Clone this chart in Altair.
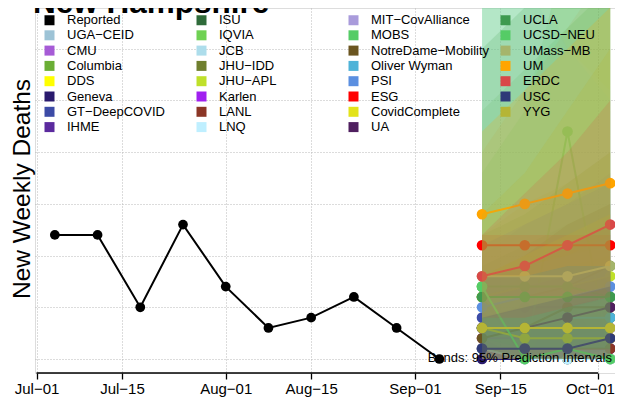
import json
import altair as alt
import pandas as pd

# ---------------- data ----------------
report_dates = ["2020-07-04", "2020-07-11", "2020-07-18", "2020-07-25", "2020-08-01",
                "2020-08-08", "2020-08-15", "2020-08-22", "2020-08-29", "2020-09-05"]
report_values = [12, 12, 5, 13, 7, 3, 4, 6, 3, 0]

forecast_dates = ["2020-09-12", "2020-09-19", "2020-09-26", "2020-10-03"]

legend_col1 = ["Reported", "UGA−CEID", "CMU", "Columbia", "DDS", "Geneva", "GT−DeepCOVID", "IHME"]
legend_col2 = ["ISU", "IQVIA", "JCB", "JHU−IDD", "JHU−APL", "Karlen", "LANL", "LNQ"]
legend_col3 = ["MIT−CovAlliance", "MOBS", "NotreDame−Mobility", "Oliver Wyman", "PSI", "ESG",
               "CovidComplete", "UA"]
legend_col4 = ["UCLA", "UCSD−NEU", "UMass−MB", "UM", "ERDC", "USC", "YYG"]

series_colors = {
    "Reported": "#000000", "UGA−CEID": "#9DC3D6", "CMU": "#A65BD6", "Columbia": "#6AAE35",
    "DDS": "#FFFF00", "Geneva": "#2A1A6E", "GT−DeepCOVID": "#3C4BA6", "IHME": "#5B2A9E",
    "ISU": "#2F6B3A", "IQVIA": "#6FD153", "JCB": "#ADDDEB", "JHU−IDD": "#6F7F2E",
    "JHU−APL": "#BFE02A", "Karlen": "#A020F0", "LANL": "#8B3626", "LNQ": "#BFEFFF",
    "MIT−CovAlliance": "#A99BDB", "MOBS": "#55CC66", "NotreDame−Mobility": "#6B5520",
    "Oliver Wyman": "#4EB3D8", "PSI": "#5B8FE0", "ESG": "#FF0000", "CovidComplete": "#E3E31A",
    "UA": "#4F1F5F", "UCLA": "#3E9A4F", "UCSD−NEU": "#55CC66", "UMass−MB": "#A5B56B",
    "UM": "#FFA500", "ERDC": "#D94848", "USC": "#2E3A78", "YYG": "#B5B535",
}

# forecast medians / 95% bounds at the four forecast dates
median = {
    "UGA−CEID": [6, 6, 6, 6], "CMU": [3, 3, 3, 3], "Columbia": [6, 0, 0, 0], "DDS": [2, 2, 2, 2],
    "Geneva": [0, 0, 0, 0], "GT−DeepCOVID": [4, 5, 5, 6], "IHME": [1, 1, 1, 1], "ISU": [3, 3, 4, 4],
    "IQVIA": [7, 0, 22, 0], "JCB": [1, 0, 0, 0], "JHU−IDD": [6, 6, 7, 9], "JHU−APL": [6, 7, 7, 8],
    "Karlen": [2, 2, 2, 2], "LANL": [1, 1, 1, 1], "LNQ": [1, 0, 0, 0], "MIT−CovAlliance": [3, 3, 3, 3],
    "MOBS": [7, 7, 7, 6], "NotreDame−Mobility": [2, 3, 5, 5], "Oliver Wyman": [3, 3, 4, 4],
    "PSI": [5, 6, 6, 7], "ESG": [11, 11, 11, 11], "CovidComplete": [3, 2, 2, 2], "UA": [3, 3, 4, 5],
    "UCLA": [6, 6, 6, 6], "UCSD−NEU": [7, 0, 1, 0], "UMass−MB": [8, 8, 8, 9], "UM": [14, 15, 16, 17],
    "ERDC": [8, 9, 11, 13], "USC": [1, 1, 1, 2], "YYG": [3, 3, 3, 3],
}
lower = {
    "UGA−CEID": [2, 2, 1, 1], "CMU": [0, 0, 0, 0], "Columbia": [1, 0, 0, 0], "DDS": [0, 0, 0, 0],
    "Geneva": [0, 0, 0, 0], "GT−DeepCOVID": [0, 0, 0, 1], "IHME": [0, 0, 0, 0], "ISU": [0, 0, 0, 0],
    "IQVIA": [2, 0, 6, 0], "JCB": [0, 0, 0, 0], "JHU−IDD": [2, 2, 2, 3], "JHU−APL": [2, 2, 2, 2],
    "Karlen": [0, 0, 0, 0], "LANL": [0, 0, 0, 0], "LNQ": [0, 0, 0, 0], "MIT−CovAlliance": [0, 0, 0, 0],
    "MOBS": [2, 1, 1, 1], "NotreDame−Mobility": [0, 0, 1, 1], "Oliver Wyman": [0, 0, 0, 0],
    "PSI": [1, 1, 1, 2], "ESG": [6, 6, 6, 6], "CovidComplete": [0, 0, 0, 0], "UA": [0, 0, 0, 0],
    "UCLA": [1, 1, 1, 1], "UCSD−NEU": [1, 0, 0, 0], "UMass−MB": [3, 3, 3, 3], "UM": [8, 8, 9, 9],
    "ERDC": [4, 4, 5, 6], "USC": [0, 0, 0, 0], "YYG": [0, 0, 0, 0],
}
upper = {
    "UGA−CEID": [11, 13, 15, 17], "CMU": [8, 10, 12, 14], "Columbia": [24, 28, 32, 36],
    "DDS": [6, 8, 9, 10], "Geneva": [5, 6, 7, 8], "GT−DeepCOVID": [10, 13, 15, 18], "IHME": [4, 4, 5, 5],
    "ISU": [9, 11, 13, 15], "IQVIA": [18, 24, 40, 40], "JCB": [40, 40, 30, 25], "JHU−IDD": [12, 14, 17, 20],
    "JHU−APL": [12, 15, 17, 20], "Karlen": [6, 7, 8, 9], "LANL": [5, 6, 7, 8], "LNQ": [40, 36, 30, 26],
    "MIT−CovAlliance": [8, 9, 10, 11], "MOBS": [40, 40, 40, 40], "NotreDame−Mobility": [8, 10, 13, 15],
    "Oliver Wyman": [8, 9, 10, 12], "PSI": [11, 13, 15, 17], "ESG": [12, 12, 12, 12],
    "CovidComplete": [8, 10, 12, 14], "UA": [8, 9, 11, 13], "UCLA": [30, 34, 38, 40],
    "UCSD−NEU": [40, 40, 40, 40], "UMass−MB": [20, 26, 32, 38], "UM": [22, 26, 30, 34],
    "ERDC": [12, 16, 20, 25], "USC": [4, 5, 6, 7], "YYG": [14, 18, 24, 30],
}

tick_dates = ["2020-07-01", "2020-07-15", "2020-08-01", "2020-08-15", "2020-09-01", "2020-09-15", "2020-10-01"]
tick_labels = ["Jul−01", "Jul−15", "Aug−01", "Aug−15", "Sep−01", "Sep−15", "Oct−01"]
y_grid = [0, 5, 10, 15, 20, 25, 30]
title_text = "New Hampshire"
note_text = "Bands: 95% Prediction Intervals"

# ---------------- build tables ----------------
origin = pd.Timestamp(tick_dates[0])


def day(s):
    return (pd.Timestamp(s) - origin).days


tick_days = [day(d) for d in tick_dates]

draw_order = legend_col1[1:] + legend_col2 + legend_col3 + legend_col4
rows = []
for k, m in enumerate(draw_order):
    for i, d in enumerate(forecast_dates):
        rows.append({"model": m, "order": k, "day": day(d), "med": median[m][i],
                     "lo": lower[m][i], "hi": upper[m][i]})
fc = pd.DataFrame(rows)
rep = pd.DataFrame({"model": "Reported", "day": [day(d) for d in report_dates], "med": report_values})

# vertical legend with 4 columns fills column by column
legend_order = legend_col1 + legend_col2 + legend_col3 + legend_col4
color_scale = alt.Scale(domain=legend_order, range=[series_colors[m] for m in legend_order])

W, H = 580, 365
PX_PER_DAY = 6.103
PX_PER_UNIT = 10.34
x_min = -0.25
x_max = x_min + W / PX_PER_DAY
y_min = -14 / PX_PER_UNIT
y_max = y_min + H / PX_PER_UNIT
xs = alt.Scale(domain=[x_min, x_max], nice=False, zero=False)
ys = alt.Scale(domain=[y_min, y_max], nice=False, zero=False)

FONT = "Liberation Sans"
label_expr = "{}[indexof({}, datum.value)]".format(
    json.dumps(tick_labels, ensure_ascii=False), json.dumps(tick_days))

x_axis = alt.Axis(values=tick_days, labelExpr=label_expr, grid=True, gridDash=[1, 2],
                  gridColor="#B8B8B8", domain=False, tickColor="black", tickWidth=1.3,
                  tickSize=6, labelFontSize=15, labelFont=FONT, labelColor="black",
                  labelPadding=2, labelFlush=False, labelOverlap=False, title=None,
                  labelOffset={"condition": {"test": f"datum.value == {tick_days[-1]}", "value": -8},
                               "value": 0})
y_axis = alt.Axis(values=y_grid, grid=True, gridDash=[1, 2], gridColor="#B8B8B8", labels=False,
                  ticks=False, domain=False, title="New Weekly Deaths", titleFontSize=24.5,
                  titleFont=FONT, titleFontWeight="normal", titleColor="black", titleX=-6,
                  titleY=180.5, titleAngle=270, titleAlign="center", titleBaseline="alphabetic")

legend = alt.Legend(
    orient="none", legendX=8, legendY=5.5, columns=4, symbolType="square", symbolSize=100,
    symbolStrokeWidth=0, symbolOpacity=1, labelFontSize=13, labelFont=FONT, labelColor="black",
    labelOffset=11, rowPadding=1.3, columnPadding=9, gridAlign="all", title=None, padding=0,
    labelLimit=300, symbolLimit=50)

color_enc = alt.Color("model:N", scale=color_scale, legend=legend)

# grid / axes carrier (draws nothing visible)
frame = alt.Chart(rep).mark_point(opacity=0).encode(
    x=alt.X("day:Q", scale=xs, axis=x_axis),
    y=alt.Y("med:Q", scale=ys, axis=y_axis),
)

layers = [frame]
# each model: band, then median line and points (later bands cover earlier ones)
for m in draw_order:
    sub = alt.Chart(fc).transform_filter(alt.datum.model == m)
    layers.append(sub.mark_area(opacity=0.19, clip=True).encode(
        x=alt.X("day:Q", scale=xs), y=alt.Y("lo:Q", scale=ys), y2="hi:Q", color=color_enc))
    layers.append(sub.mark_line(strokeWidth=2, clip=True).encode(
        x=alt.X("day:Q", scale=xs), y=alt.Y("med:Q", scale=ys), color=color_enc))
    layers.append(sub.mark_circle(size=115, opacity=1, clip=True).encode(
        x=alt.X("day:Q", scale=xs), y=alt.Y("med:Q", scale=ys), color=color_enc))

rep_line = alt.Chart(rep).mark_line(strokeWidth=2).encode(
    x=alt.X("day:Q", scale=xs), y=alt.Y("med:Q", scale=ys), color=color_enc)
rep_pts = alt.Chart(rep).mark_circle(size=95, opacity=1).encode(
    x=alt.X("day:Q", scale=xs), y=alt.Y("med:Q", scale=ys), color=color_enc)

axis_line = alt.Chart(pd.DataFrame({"a": [tick_days[0]], "b": [tick_days[-1]], "y": [y_min]})).mark_rule(
    color="black", strokeWidth=1.5).encode(
    x=alt.X("a:Q", scale=xs), x2="b:Q", y=alt.Y("y:Q", scale=ys))

note = alt.Chart(pd.DataFrame({"x": [x_max], "y": [y_min], "t": [note_text]})).mark_text(
    align="right", baseline="alphabetic", dx=-3, dy=-11, fontSize=13, font=FONT, color="black").encode(
    x=alt.X("x:Q", scale=xs), y=alt.Y("y:Q", scale=ys), text="t:N")

title = alt.Chart(pd.DataFrame({"x": [x_min], "y": [y_max], "t": [title_text]})).mark_text(
    align="left", baseline="alphabetic", dx=-2, dy=5, fontSize=31.5, fontWeight="bold",
    font=FONT, color="black").encode(
    x=alt.X("x:Q", scale=xs), y=alt.Y("y:Q", scale=ys), text="t:N")

layers += [rep_line, rep_pts, axis_line, note, title]

chart = alt.layer(*layers).properties(
    width=W, height=H,
    padding={"left": 27, "top": 0, "right": 0, "bottom": 24},
    autosize="none",
).configure_view(stroke=None).configure(background="white")

chart.save("out.html", embed_options={"renderer": "svg", "actions": False})
